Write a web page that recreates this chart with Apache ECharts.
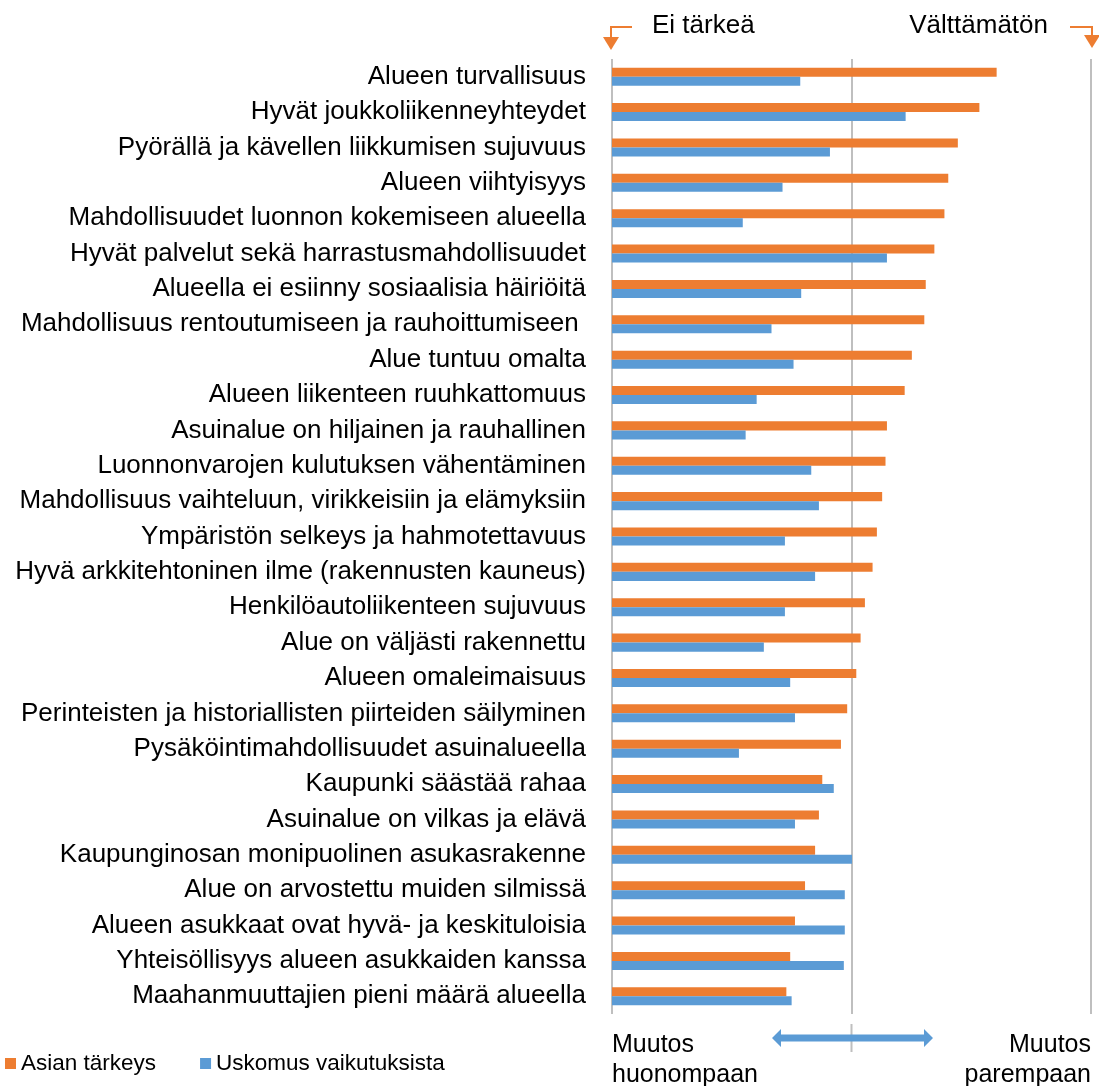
<!DOCTYPE html>
<html>
<head>
<meta charset="utf-8">
<script src="https://cdn.jsdelivr.net/npm/echarts@6/dist/echarts.min.js"></script>
<style>
html,body{margin:0;padding:0;background:#fff;}
#chart{width:1099px;height:1086px;}
</style>
</head>
<body>
<div id="chart"></div>
<script>
const categories = [
  "Alueen turvallisuus",
  "Hyvät joukkoliikenneyhteydet",
  "Pyörällä ja kävellen liikkumisen sujuvuus",
  "Alueen viihtyisyys",
  "Mahdollisuudet luonnon kokemiseen alueella",
  "Hyvät palvelut sekä harrastusmahdollisuudet",
  "Alueella ei esiinny sosiaalisia häiriöitä",
  "Mahdollisuus rentoutumiseen ja rauhoittumiseen ",
  "Alue tuntuu omalta",
  "Alueen liikenteen ruuhkattomuus",
  "Asuinalue on hiljainen ja rauhallinen",
  "Luonnonvarojen kulutuksen vähentäminen",
  "Mahdollisuus vaihteluun, virikkeisiin ja elämyksiin",
  "Ympäristön selkeys ja hahmotettavuus",
  "Hyvä arkkitehtoninen ilme (rakennusten kauneus)",
  "Henkilöautoliikenteen sujuvuus",
  "Alue on väljästi rakennettu",
  "Alueen omaleimaisuus",
  "Perinteisten ja historiallisten piirteiden säilyminen",
  "Pysäköintimahdollisuudet asuinalueella",
  "Kaupunki säästää rahaa",
  "Asuinalue on vilkas ja elävä",
  "Kaupunginosan monipuolinen asukasrakenne",
  "Alue on arvostettu muiden silmissä",
  "Alueen asukkaat ovat hyvä- ja keskituloisia",
  "Yhteisöllisyys alueen asukkaiden kanssa",
  "Maahanmuuttajien pieni määrä alueella"
];
const importance = [80.3,76.7,72.2,70.2,69.4,67.3,65.5,65.2,62.6,61.1,57.4,57.1,56.4,55.3,54.4,52.8,51.9,51.0,49.1,47.8,43.9,43.2,42.4,40.3,38.2,37.2,36.4];
const belief = [39.3,61.3,45.5,35.6,27.3,57.4,39.5,33.3,37.9,30.2,27.9,41.6,43.2,36.1,42.4,36.1,31.7,37.2,38.2,26.5,46.3,38.2,50.1,48.6,48.6,48.4,37.5];
const seriesNames = ["Asian tärkeys", "Uskomus vaikutuksista"];
const axisMin = 0, axisMax = 100, axisStep = 50;

const FONT = "'Liberation Sans', Arial, sans-serif";
const chart = echarts.init(document.getElementById('chart'));
const option = {
  animation: false,
  backgroundColor: '#fff',
  textStyle: { fontFamily: FONT },
  grid: { left: 612, right: 8, top: 59, bottom: 72, containLabel: false },
  legend: {
    left: 0, top: 1047,
    itemWidth: 11, itemHeight: 11, itemGap: 44,
    icon: 'rect',
    textStyle: { fontFamily: FONT, fontSize: 22.5, color: '#000' },
    data: seriesNames
  },
  xAxis: {
    type: 'value', min: axisMin, max: axisMax, interval: axisStep,
    axisLabel: { show: false }, axisTick: { show: false }, axisLine: { show: false },
    splitLine: { lineStyle: { color: '#bfbfbf', width: 2 } }
  },
  yAxis: {
    type: 'category', inverse: true, data: categories,
    axisTick: { show: false },
    axisLine: { show: false },
    axisLabel: { fontFamily: FONT, fontSize: 26, color: '#000', margin: 26 }
  },
  series: [
    { name: seriesNames[0], type: 'bar', data: importance, barGap: '0%', barCategoryGap: '49%',
      itemStyle: { color: '#ED7D31' } },
    { name: seriesNames[1], type: 'bar', data: belief, barGap: '0%', barCategoryGap: '49%',
      itemStyle: { color: '#5B9BD5' } }
  ]
};
chart.setOption(option);

const x0 = chart.convertToPixel({ xAxisIndex: 0 }, axisMin);
const xm = chart.convertToPixel({ xAxisIndex: 0 }, axisMin + axisStep);
const x1 = chart.convertToPixel({ xAxisIndex: 0 }, axisMax);
const orange = '#ED7D31', blue = '#5B9BD5';
const textStyleBig = { fontFamily: FONT, fontSize: 26, fill: '#000' };
chart.setOption({
  graphic: [
    // top annotations
    { type: 'text', left: x0 + 40, top: 13, style: Object.assign({ text: 'Ei tärkeä' }, textStyleBig) },
    { type: 'text', right: 1099 - 1048, top: 13, style: Object.assign({ text: 'Välttämätön', textAlign: 'right' }, textStyleBig) },
    { type: 'polyline', shape: { points: [[x0 + 20, 27], [x0 - 1, 27], [x0 - 1, 38]] }, style: { stroke: orange, lineWidth: 2, fill: null } },
    { type: 'polygon', shape: { points: [[x0 - 9, 37], [x0 + 7, 37], [x0 - 1, 50]] }, style: { fill: orange } },
    { type: 'polyline', shape: { points: [[x1 - 21, 27], [x1 + 1, 27], [x1 + 1, 36]] }, style: { stroke: orange, lineWidth: 2, fill: null } },
    { type: 'polygon', shape: { points: [[x1 - 7, 35], [x1 + 9, 35], [x1 + 1, 48]] }, style: { fill: orange } },
    // bottom annotations
    { type: 'line', shape: { x1: xm, y1: 1024, x2: xm, y2: 1052 }, style: { stroke: '#bfbfbf', lineWidth: 2 } },
    { type: 'polygon', shape: { points: [
        [772, 1038], [781, 1029], [781, 1034.5], [924, 1034.5], [924, 1029], [933, 1038],
        [924, 1047], [924, 1041.5], [781, 1041.5], [781, 1047]
      ] }, style: { fill: blue } },
    { type: 'text', left: x0, top: 1030, style: Object.assign({ text: 'Muutos\nhuonompaan', lineHeight: 30 }, textStyleBig, { fontSize: 25 }) },
    { type: 'text', right: 1099 - x1, top: 1030, style: Object.assign({ text: 'Muutos\nparempaan', lineHeight: 30, textAlign: 'right' }, textStyleBig, { fontSize: 25 }) }
  ]
});
</script>
</body>
</html>
